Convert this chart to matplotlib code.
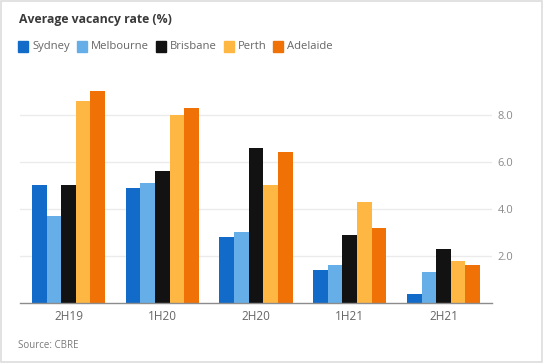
import numpy as np
import matplotlib
matplotlib.use("Agg")
import matplotlib.pyplot as plt
from matplotlib.patches import Rectangle

plt.rcParams['font.family'] = ['Open Sans', 'DejaVu Sans']

# Data
periods = ['2H19', '1H20', '2H20', '1H21', '2H21']
cities = ['Sydney', 'Melbourne', 'Brisbane', 'Perth', 'Adelaide']
sydney = [5.0, 4.9, 2.8, 1.4, 0.4]
melbourne = [3.7, 5.1, 3.0, 1.6, 1.3]
brisbane = [5.0, 5.6, 6.6, 2.9, 2.3]
perth = [8.6, 8.0, 5.0, 4.3, 1.8]
adelaide = [9.0, 8.3, 6.4, 3.2, 1.6]
yticks = [2.0, 4.0, 6.0, 8.0]

series = [sydney, melbourne, brisbane, perth, adelaide]
colors = ['#126bc9', '#66aee8', '#121212', '#ffb743', '#f07206']

fig = plt.figure(figsize=(5.44, 3.63), dpi=100)
fig.patches.append(Rectangle((0.002, 0.003), 0.995, 0.994, transform=fig.transFigure,
                             fill=False, edgecolor='#dddddd', lw=1.2))

ax = fig.add_axes([20/544, 1-303/363, 472/544, 218/363])

x = np.arange(len(periods))
w = 0.156
for i, (vals, c) in enumerate(zip(series, colors)):
    ax.bar(x + (i - 2) * w, vals, width=w, color=c, edgecolor='none', zorder=3)

ax.set_xlim(-0.517, 4.517)
ax.set_ylim(0, 9.26)
ax.set_yticks(yticks)
ax.set_yticklabels([f'{t:.1f}' for t in yticks])
ax.yaxis.tick_right()
ax.tick_params(axis='y', length=0, pad=4, labelsize=8, labelcolor='#8a8a8a')
ax.set_xticks(x)
ax.set_xticklabels(periods)
ax.tick_params(axis='x', length=0, pad=5, labelsize=8.5, labelcolor='#666666')
ax.grid(axis='y', color='#ebebeb', lw=1, zorder=0)
for s in ['top', 'right', 'left']:
    ax.spines[s].set_visible(False)
ax.spines['bottom'].set_color('#8c8c8c')
ax.spines['bottom'].set_linewidth(1)
ax.spines['bottom'].set_zorder(4)

# Title and legend
fig.text(19/544, 1-20/363, 'Average vacancy rate (%)', fontsize=8.8, fontweight='bold',
         color='#3a3a3a', va='center', ha='left')

renderer = fig.canvas.get_renderer()
lx = 18
ly = 46.5
for name, c in zip(cities, colors):
    fig.patches.append(Rectangle((lx/544, 1-(ly+5.5)/363), 10/544, 11/363,
                                 transform=fig.transFigure, color=c))
    t = fig.text((lx + 14)/544, 1-ly/363, name, fontsize=8.1, color='#666666',
                 va='center', ha='left')
    bb = t.get_window_extent(renderer)
    lx = bb.x1 + 7

fig.text(18/544, 1-345/363, 'Source: CBRE', fontsize=7, color='#7a7a7a',
         va='center', ha='left')

fig.savefig('out.png', dpi=100)
